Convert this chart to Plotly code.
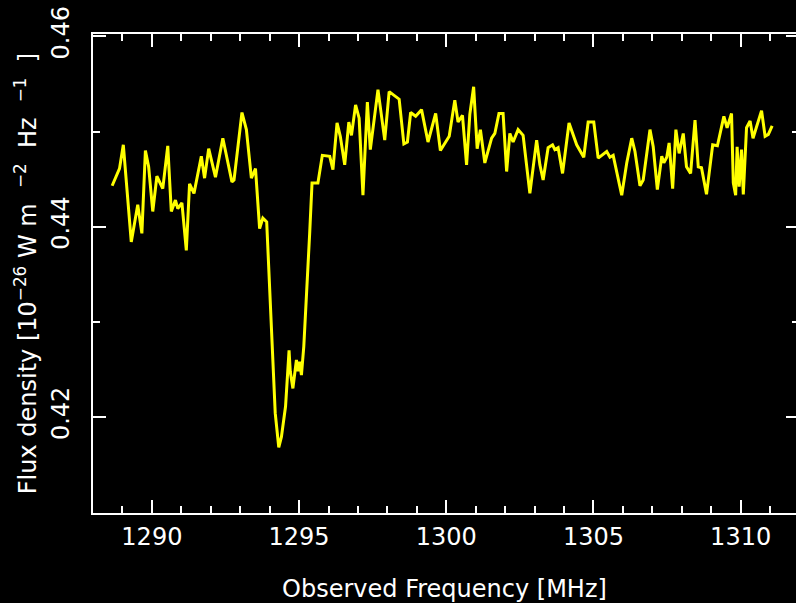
import plotly.graph_objects as go

# Observed frequency [MHz]
freq = [1288.65, 1288.90, 1289.03, 1289.30, 1289.52, 1289.66, 1289.78, 1289.89, 1290.03, 1290.17,
        1290.37, 1290.54, 1290.66, 1290.80, 1290.88, 1291.02, 1291.17, 1291.28, 1291.43, 1291.68,
        1291.79, 1291.93, 1292.16, 1292.41, 1292.72, 1292.79, 1293.06, 1293.21, 1293.38, 1293.52,
        1293.66, 1293.77, 1293.90, 1294.02, 1294.11, 1294.19, 1294.31, 1294.40, 1294.54, 1294.66,
        1294.70, 1294.79, 1294.91, 1294.96, 1295.02, 1295.08, 1295.16, 1295.25, 1295.36, 1295.44,
        1295.64, 1295.79, 1296.04, 1296.15, 1296.29, 1296.40, 1296.55, 1296.69, 1296.78, 1296.92,
        1297.04, 1297.17, 1297.32, 1297.42, 1297.68, 1297.91, 1298.06, 1298.40, 1298.56, 1298.68,
        1298.79, 1298.96, 1299.16, 1299.38, 1299.64, 1299.80, 1300.10, 1300.29, 1300.40, 1300.55,
        1300.69, 1300.80, 1300.93, 1301.05, 1301.16, 1301.31, 1301.54, 1301.65, 1301.79, 1301.93,
        1302.05, 1302.16, 1302.27, 1302.44, 1302.61, 1302.84, 1303.07, 1303.18, 1303.29, 1303.46,
        1303.61, 1303.69, 1303.80, 1303.95, 1304.17, 1304.43, 1304.67, 1304.82, 1305.01, 1305.16,
        1305.45, 1305.56, 1305.67, 1305.96, 1306.13, 1306.30, 1306.41, 1306.58, 1306.69, 1306.92,
        1307.03, 1307.17, 1307.32, 1307.39, 1307.49, 1307.57, 1307.69, 1307.80, 1307.91, 1308.05,
        1308.16, 1308.30, 1308.45, 1308.56, 1308.67, 1308.84, 1309.05, 1309.21, 1309.43, 1309.54,
        1309.69, 1309.75, 1309.83, 1309.88, 1309.95, 1310.03, 1310.09, 1310.20, 1310.32, 1310.42,
        1310.52, 1310.71, 1310.83, 1310.94, 1311.07]

# Flux density [1e-26 W m^-2 Hz^-1]
flux = [0.4443, 0.4461, 0.4486, 0.4384, 0.4423, 0.4393, 0.4480, 0.4463, 0.4416, 0.4453,
        0.4440, 0.4485, 0.4416, 0.4428, 0.4419, 0.4425, 0.4375, 0.4445, 0.4435, 0.4474,
        0.4451, 0.4482, 0.4452, 0.4493, 0.4447, 0.4449, 0.4520, 0.4502, 0.4451, 0.4461,
        0.4398, 0.4409, 0.4405, 0.4320, 0.4260, 0.4204, 0.4168, 0.4179, 0.4211, 0.4270,
        0.4248, 0.4230, 0.4260, 0.4248, 0.4258, 0.4244, 0.4274, 0.4323, 0.4393, 0.4446,
        0.4446, 0.4475, 0.4474, 0.4460, 0.4509, 0.4495, 0.4465, 0.4510, 0.4496, 0.4528,
        0.4514, 0.4433, 0.4531, 0.4481, 0.4544, 0.4491, 0.4542, 0.4534, 0.4487, 0.4489,
        0.4520, 0.4516, 0.4523, 0.4489, 0.4519, 0.4480, 0.4495, 0.4533, 0.4510, 0.4517,
        0.4465, 0.4518, 0.4547, 0.4482, 0.4502, 0.4467, 0.4493, 0.4498, 0.4519, 0.4519,
        0.4458, 0.4498, 0.4489, 0.4502, 0.4496, 0.4435, 0.4491, 0.4465, 0.4449, 0.4483,
        0.4486, 0.4481, 0.4483, 0.4456, 0.4509, 0.4486, 0.4473, 0.4510, 0.4510, 0.4472,
        0.4479, 0.4473, 0.4475, 0.4433, 0.4467, 0.4493, 0.4479, 0.4443, 0.4449, 0.4502,
        0.4484, 0.4439, 0.4474, 0.4467, 0.4473, 0.4488, 0.4440, 0.4502, 0.4477, 0.4498,
        0.4463, 0.4456, 0.4512, 0.4463, 0.4462, 0.4434, 0.4486, 0.4485, 0.4516, 0.4504,
        0.4519, 0.4446, 0.4433, 0.4484, 0.4442, 0.4481, 0.4434, 0.4504, 0.4511, 0.4493,
        0.4503, 0.4522, 0.4495, 0.4497, 0.4506]

x_major = [1290, 1295, 1300, 1305, 1310]
x_labels = ["1290", "1295", "1300", "1305", "1310"]
y_major = [0.42, 0.44, 0.46]
y_labels = ["0.42", "0.44", "0.46"]

x_range = [1288.0, 1311.88]
y_range = [0.40991, 0.46025]

FONT = "DejaVu Sans"
WHITE = "#ffffff"

fig = go.Figure()
fig.add_trace(go.Scatter(
    x=freq, y=flux, mode="lines",
    line=dict(color="#ffff00", width=3),
    showlegend=False, hoverinfo="skip",
))
fig.add_trace(go.Scatter(
    x=freq[:1], y=flux[:1], mode="none", yaxis="y2",
    showlegend=False, hoverinfo="skip",
))

nb = "\u00a0"
ytitle = ("Flux density [10<sup>−26</sup>" + nb + "W" + nb + "m" + nb + nb
          + "<sup>−2</sup>" + nb + nb + "Hz" + nb + nb + "<sup>−1</sup>" + nb + nb + "]")

fig.update_layout(
    width=796, height=603,
    margin=dict(l=93, r=0, t=34, b=90, pad=0),
    paper_bgcolor="#000000", plot_bgcolor="#000000",
    font=dict(family=FONT, size=24, color=WHITE),
    xaxis=dict(
        range=x_range, showgrid=False, zeroline=False,
        showline=True, linecolor=WHITE, linewidth=2, mirror="ticks",
        ticks="inside", ticklen=13, tickwidth=2, tickcolor=WHITE,
        tickvals=x_major, ticktext=x_labels,
        tickfont=dict(family=FONT, size=24, color=WHITE),
        ticklabelstandoff=1,
        minor=dict(ticks="inside", ticklen=7, tickwidth=2, tickcolor=WHITE,
                   dtick=1, tick0=1288, showgrid=False),
        title=dict(text="Observed Frequency [MHz]", standoff=31,
                   font=dict(family=FONT, size=24, color=WHITE)),
    ),
    yaxis=dict(
        range=y_range, showgrid=False, zeroline=False,
        showline=True, linecolor=WHITE, linewidth=2, mirror=False,
        ticks="inside", ticklen=13, tickwidth=2, tickcolor=WHITE,
        tickvals=y_major, ticktext=y_labels, tickangle=-90,
        tickfont=dict(family=FONT, size=24, color=WHITE),
        ticklabelstandoff=12,
        minor=dict(ticks="inside", ticklen=7, tickwidth=2, tickcolor=WHITE,
                   dtick=0.01, tick0=0.41, showgrid=False),
        title=dict(text=ytitle, standoff=4,
                   font=dict(family=FONT, size=24, color=WHITE)),
    ),
    yaxis2=dict(
        range=y_range, overlaying="y", side="right",
        showgrid=False, zeroline=False, showline=False,
        ticks="inside", ticklen=10, tickwidth=2, tickcolor=WHITE,
        tickvals=y_major, showticklabels=False,
        minor=dict(ticks="inside", ticklen=4, tickwidth=2, tickcolor=WHITE,
                   dtick=0.01, tick0=0.41, showgrid=False),
    ),
)

fig.write_html("out.html")
